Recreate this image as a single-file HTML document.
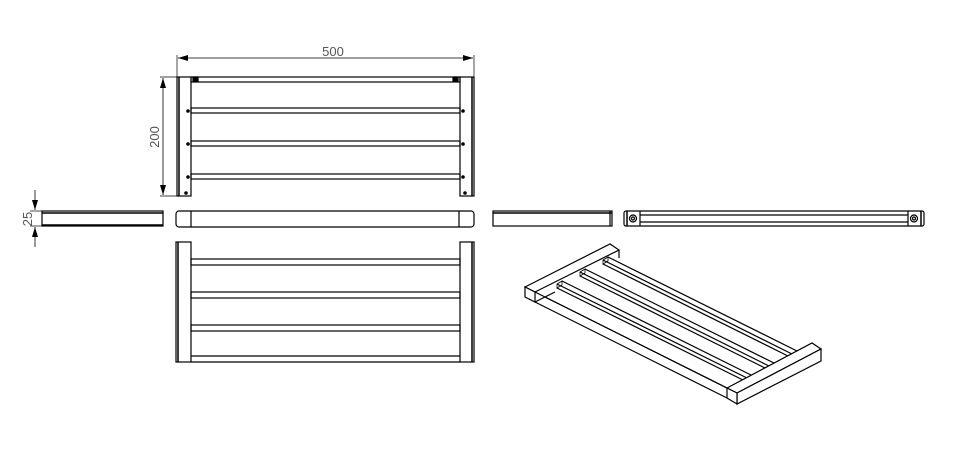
<!DOCTYPE html>
<html><head><meta charset="utf-8"><style>
html,body{margin:0;padding:0;background:#fff;}
svg{display:block;}
text{font-family:"Liberation Sans",sans-serif;fill:#555;}
</style></head><body>
<svg width="960" height="460" viewBox="0 0 960 460" xmlns="http://www.w3.org/2000/svg">
<defs>
<marker id="a" markerWidth="10" markerHeight="6" refX="10" refY="3" orient="auto-start-reverse" markerUnits="userSpaceOnUse"><path d="M0,0 L10,3 L0,6 z" fill="#000"/></marker>
</defs>
<g stroke="#000" fill="none" stroke-width="1.2">
<line x1="177" y1="55" x2="177" y2="77" stroke-width="0.7"/>
<line x1="474" y1="55" x2="474" y2="77" stroke-width="0.7"/>
<line x1="178" y1="58" x2="473" y2="58" stroke-width="0.8" marker-start="url(#a)" marker-end="url(#a)"/>
<line x1="160" y1="77" x2="177" y2="77" stroke-width="0.7"/>
<line x1="160" y1="196" x2="177" y2="196" stroke-width="0.7"/>
<line x1="163" y1="78" x2="163" y2="195" stroke-width="0.8" marker-start="url(#a)" marker-end="url(#a)"/>
<rect x="177" y="77" width="14" height="119"/>
<line x1="179" y1="77" x2="179" y2="196" stroke-width="1.5"/>
<rect x="460" y="77" width="14" height="119"/>
<line x1="472" y1="77" x2="472" y2="196" stroke-width="1.5"/>
<rect x="191" y="77" width="269" height="5"/>
<rect x="193" y="77" width="5" height="4" fill="#000"/>
<rect x="453" y="77" width="5" height="4" fill="#000"/>
<rect x="191" y="108" width="269" height="5"/>
<rect x="191" y="141" width="269" height="5"/>
<rect x="191" y="174" width="269" height="5"/>
</g>
<g fill="#000">
<circle cx="188" cy="111" r="1.8"/><circle cx="463" cy="111" r="1.8"/>
<circle cx="188" cy="144" r="1.8"/><circle cx="463" cy="144" r="1.8"/>
<circle cx="188" cy="177" r="1.8"/><circle cx="463" cy="177" r="1.8"/>
<circle cx="186" cy="193" r="1.8"/><circle cx="465" cy="193" r="1.8"/>
</g>
<text x="333" y="56" font-size="13" text-anchor="middle">500</text>
<text transform="translate(159,137) rotate(-90)" font-size="13" text-anchor="middle">200</text>
<text transform="translate(32,219) rotate(-90)" font-size="13" text-anchor="middle">25</text>
<g stroke="#000" fill="none" stroke-width="1.2">
<line x1="30" y1="211" x2="42" y2="211" stroke-width="0.7"/>
<line x1="30" y1="226" x2="42" y2="226" stroke-width="0.7"/>
<line x1="35" y1="190" x2="35" y2="210" stroke-width="0.8" marker-end="url(#a)"/>
<line x1="35" y1="247" x2="35" y2="227" stroke-width="0.8" marker-end="url(#a)"/>
<rect x="42" y="211" width="121" height="15"/>
<line x1="42" y1="213" x2="163" y2="213" stroke-width="1.5"/>
<line x1="42" y1="225" x2="163" y2="225" stroke-width="1.5"/>
<rect x="176" y="211" width="298" height="16" rx="3"/>
<line x1="191" y1="211" x2="191" y2="227"/>
<line x1="459" y1="211" x2="459" y2="227"/>
<rect x="493" y="211" width="119" height="15"/>
<line x1="493" y1="213" x2="612" y2="213" stroke-width="1.5"/>
<line x1="610" y1="211" x2="610" y2="226"/>
<rect x="624" y="211" width="300" height="15" rx="2"/>
<line x1="627" y1="211" x2="627" y2="226" stroke-width="1.5"/>
<line x1="921" y1="211" x2="921" y2="226" stroke-width="1.5"/>
<line x1="640" y1="211" x2="640" y2="226"/>
<line x1="908" y1="211" x2="908" y2="226"/>
<line x1="640" y1="215" x2="908" y2="215"/>
<line x1="640" y1="222" x2="908" y2="222"/>
<circle cx="633" cy="218.5" r="3.5"/><circle cx="633" cy="218.5" r="1.5"/>
<circle cx="914" cy="218.5" r="3.5"/><circle cx="914" cy="218.5" r="1.5"/>
<rect x="176" y="242" width="15" height="120"/>
<line x1="178" y1="242" x2="178" y2="362" stroke-width="1.5"/>
<rect x="460" y="242" width="14" height="120"/>
<line x1="472" y1="242" x2="472" y2="362" stroke-width="1.5"/>
<rect x="191" y="259" width="269" height="6"/>
<rect x="191" y="292" width="269" height="6"/>
<rect x="191" y="325" width="269" height="6"/>
<line x1="191" y1="356" x2="460" y2="356"/>
<line x1="191" y1="362" x2="460" y2="362"/>
<polygon points="525,287 610,244 619,250 535,292" fill="#fff"/>
<polygon points="525,287 535,292 535,302 525,297" fill="#fff"/>
<line x1="619" y1="250" x2="619" y2="258"/>
<line x1="535" y1="302" x2="555" y2="292"/>
<line x1="535" y1="292" x2="727" y2="388"/>
<line x1="545" y1="297" x2="727" y2="388"/>
<line x1="535" y1="302" x2="727" y2="398"/>
<g>
<polygon points="603,260 608,257 608,261 603,264" fill="#fff" stroke-width="0.8"/>
<line x1="608" y1="257" x2="797" y2="351"/>
<line x1="603" y1="260" x2="792" y2="354"/>
<line x1="603" y1="264" x2="788" y2="356"/>
<polygon points="580,272 585,269 585,273 580,276" fill="#fff" stroke-width="0.8"/>
<line x1="585" y1="269" x2="774" y2="363"/>
<line x1="580" y1="272" x2="769" y2="366"/>
<line x1="580" y1="276" x2="765" y2="368"/>
<polygon points="557,284 562,281 562,285 557,288" fill="#fff" stroke-width="0.8"/>
<line x1="562" y1="281" x2="751" y2="375"/>
<line x1="557" y1="284" x2="747" y2="378"/>
<line x1="557" y1="288" x2="743" y2="380"/>
</g>
<polygon points="727,388 812,343 821,349 737,393" fill="#fff"/>
<polygon points="737,393 821,349 821,361 737,404" fill="#fff"/>
<polygon points="727,388 737,393 737,404 727,398" fill="#fff"/>
</g>
</svg>
</body></html>
